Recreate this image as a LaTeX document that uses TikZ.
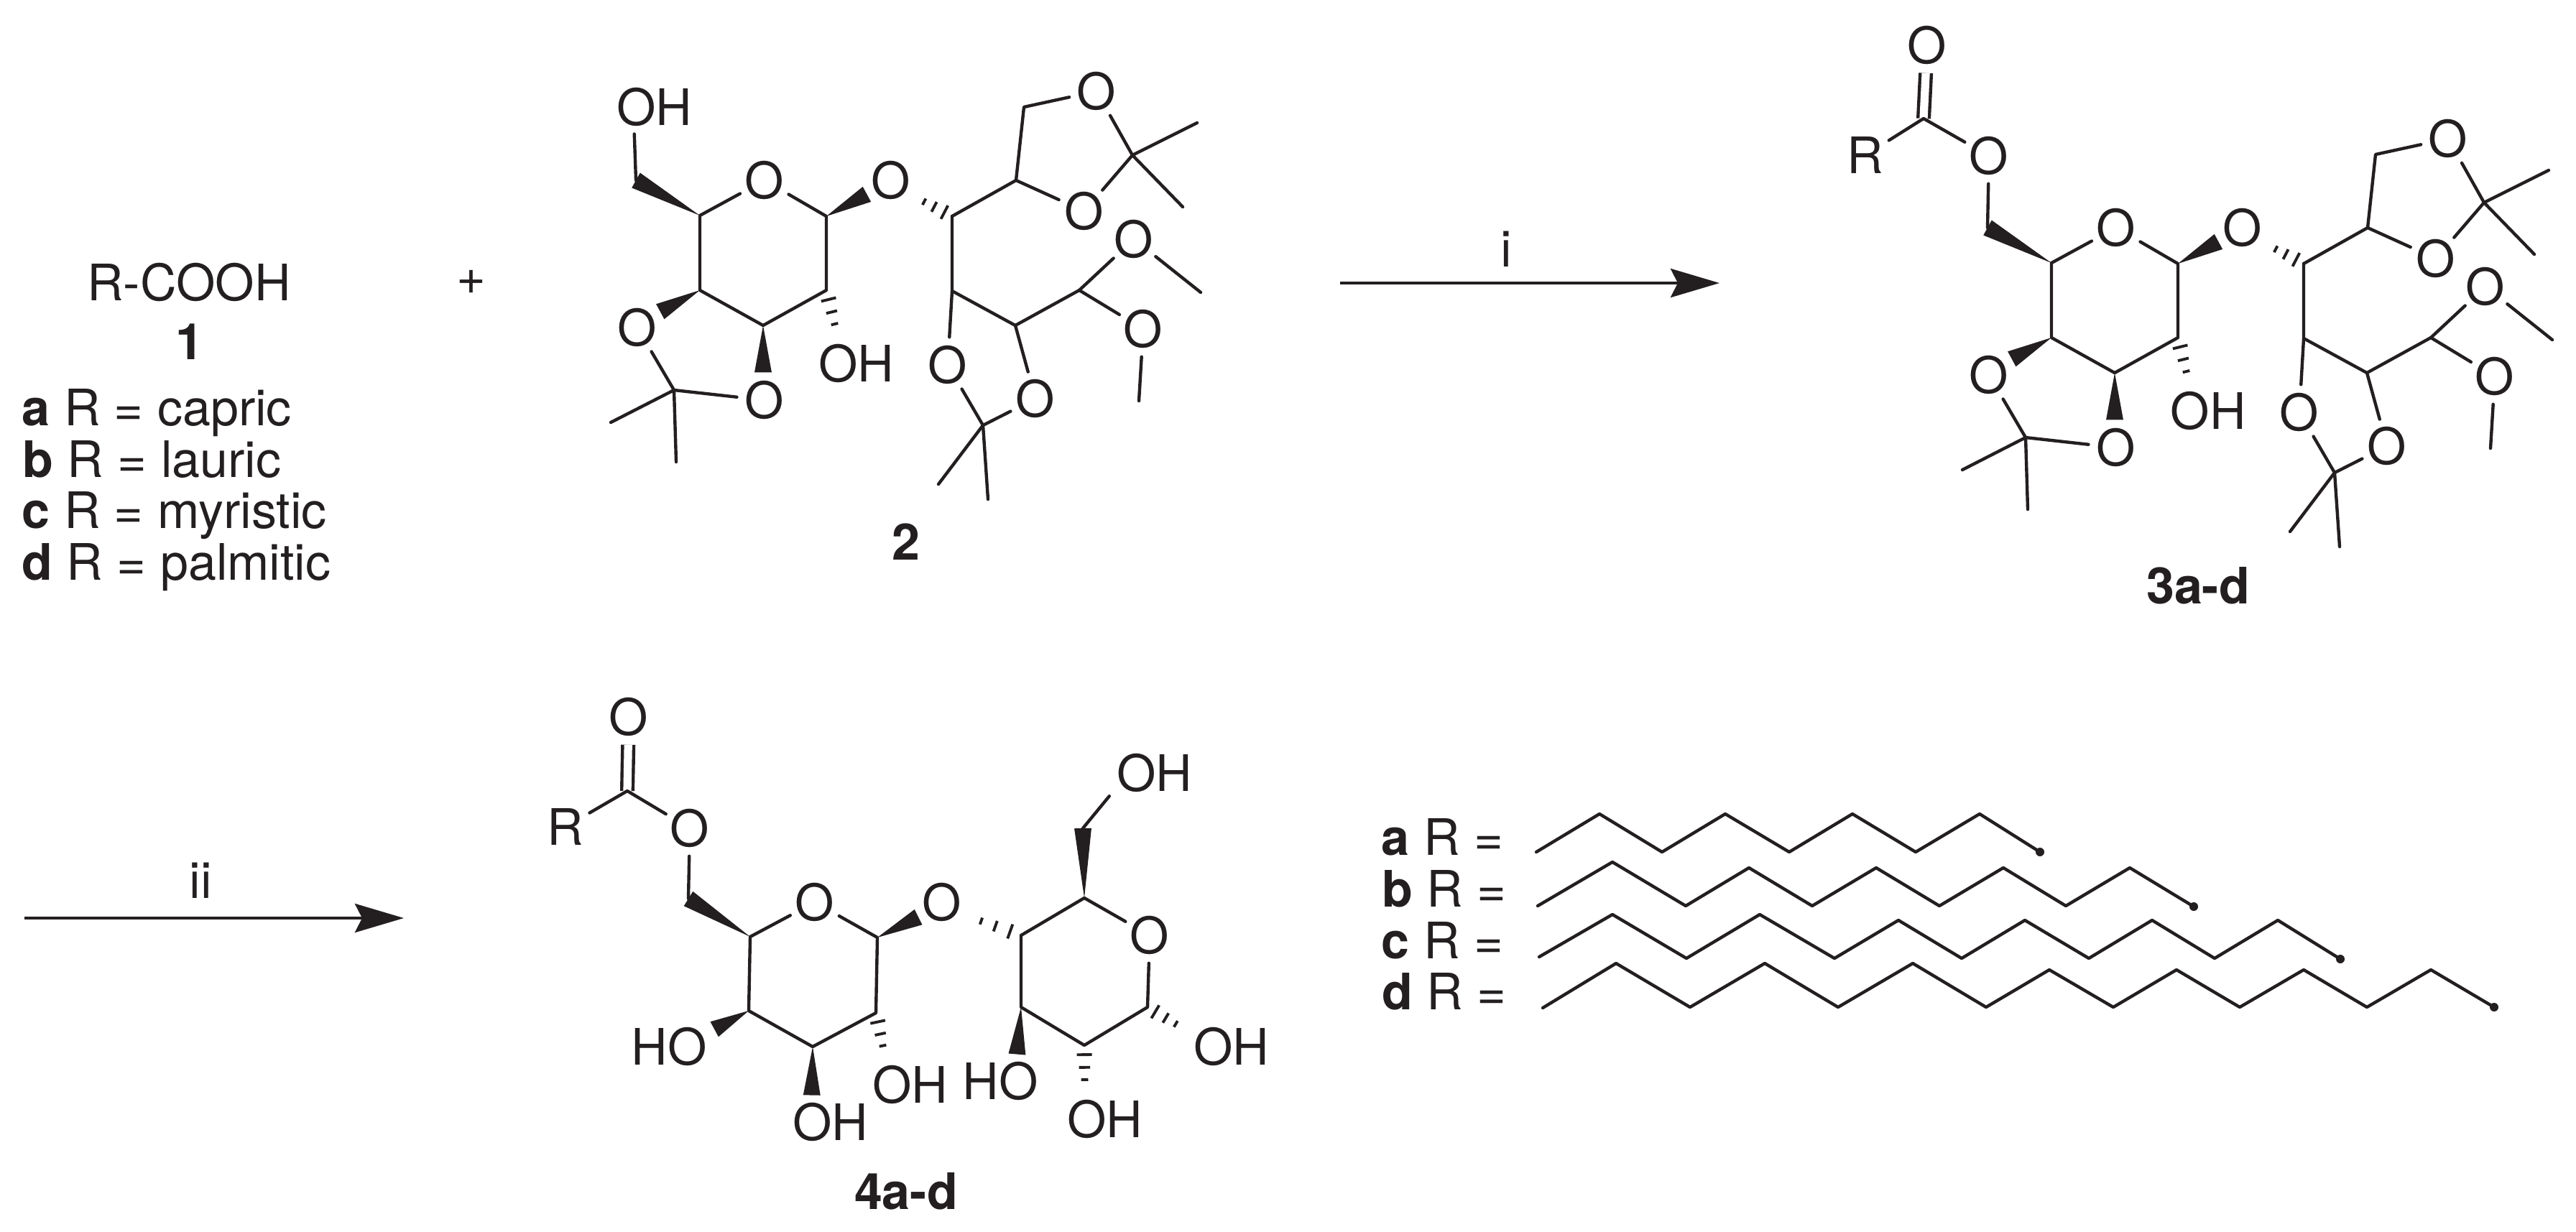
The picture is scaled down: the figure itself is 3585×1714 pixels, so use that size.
\documentclass[tikz,border=0pt]{standalone}
\usepackage{fontspec}
\setmainfont{TeX Gyre Heros}
\usetikzlibrary{calc,arrows.meta}
\definecolor{inkblack}{HTML}{231F20}

\tikzset{
	every node/.style={font=\fontsize{19.9pt}{24pt}\selectfont,text=inkblack},
	bond/.style={draw=inkblack,line width=1.25pt,line cap=round,line join=round},
	dbond/.style={draw=inkblack,line width=1.25pt,double=white,double distance=3.2pt},
	atom/.style={circle,inner sep=0pt,minimum size=0.76cm},
	hydroxyl/.style={rectangle,inner sep=0.1cm},
	caption/.style={inner sep=0pt,font=\fontsize{19.9pt}{24pt}\selectfont\bfseries},
	listing/.style={inner sep=0pt,anchor=base west},
	reaction/.style={draw=inkblack,line width=1.25pt,-{Stealth[length=0.68cm,width=0.4cm,inset=0.1cm]}},
}

\newcommand{\wedgebond}[2]{%
	\fill[inkblack] (#1) -- ($(#2)!3.4pt!90:(#1)$) -- ($(#2)!3.4pt!-90:(#1)$) -- cycle;
}
\newcommand{\hashbond}[2]{%
	\foreach \t/\w in {0.2/3pt,0.47/2.2pt,0.73/1.4pt,1/0.6pt}{
		\draw[inkblack,line width=1.1pt] ($(#1)!\t!(#2)!\w!90:(#2)$) -- ($(#1)!\t!(#2)!\w!-90:(#2)$);
	}
}

\newcommand{\protectedcore}{%
	\coordinate (C1) at (1150,301);
	\coordinate (C2) at (1150,404);
	\coordinate (C3) at (1062,453);
	\coordinate (C4) at (974,404);
	\coordinate (C5) at (974,300);
	\coordinate (C6) at (885,251);
	\node[atom] (O5) at (1064,251) {O};
	\node[atom] (O1) at (1240,251) {O};
	\node[atom] (O4) at (887,456) {O};
	\node[atom] (O3) at (1064,557) {O};
	\node[hydroxyl] (OH2) at (1192,506) {OH};
	\coordinate (K1) at (938,543);
	\coordinate (K1a) at (850,588);
	\coordinate (K1b) at (941,643);
	\draw[bond] (C5) -- (O5) -- (C1) -- (C2) -- (C3) -- (C4) -- (C5);
	\draw[bond] (O4) -- (K1) -- (O3);
	\draw[bond] (K1a) -- (K1) -- (K1b);
	\wedgebond{C5}{C6}
	\wedgebond{C1}{O1.210}
	\wedgebond{C4}{O4.35}
	\wedgebond{C3}{O3.93}
	\hashbond{C2}{OH2.125}
	% open chain
	\coordinate (D1) at (1325,301);
	\coordinate (D2) at (1325,405);
	\coordinate (D3) at (1413,453);
	\coordinate (D4) at (1502,404);
	\coordinate (D5) at (1414,251);
	\coordinate (D6) at (1425,149);
	\hashbond{D1}{O1.325}
	\node[atom] (O6) at (1526,127) {O};
	\node[atom] (O7) at (1509,294) {O};
	\node[atom] (O8) at (1319,508) {O};
	\node[atom] (O9) at (1441,555) {O};
	\node[atom] (O10) at (1578,333) {O};
	\node[atom] (O11) at (1591,458) {O};
	\coordinate (K2) at (1576,216);
	\coordinate (K2a) at (1666,171);
	\coordinate (K2b) at (1646,288);
	\coordinate (K3) at (1368,592);
	\coordinate (K3a) at (1306,674);
	\coordinate (K3b) at (1375,695);
	\coordinate (M1) at (1671,407);
	\coordinate (M2) at (1585,558);
	\draw[bond] (D1) -- (D2) -- (D3) -- (D4);
	\draw[bond] (D1) -- (D5) -- (D6) -- (O6) -- (K2) -- (O7) -- (D5);
	\draw[bond] (K2a) -- (K2) -- (K2b);
	\draw[bond] (D2) -- (O8) -- (K3) -- (O9) -- (D3);
	\draw[bond] (K3a) -- (K3) -- (K3b);
	\draw[bond] (D4) -- (O10) -- (M1);
	\draw[bond] (D4) -- (O11) -- (M2);
}

\begin{document}
\begin{tikzpicture}[x=0.01cm,y=-0.01cm]
\useasboundingbox (0,0) rectangle (3585,1714);

% acid
\node (acid) at (263,393) {R-COOH};
\node[caption] (acidno) at (264,476) {1};
\node[listing] (acida) at (30,592) {\textbf{a} R = capric};
\node[listing] (acidb) at (31,664) {\textbf{b} R = lauric};
\node[listing] (acidc) at (30,735) {\textbf{c} R = myristic};
\node[listing] (acidd) at (30,807) {\textbf{d} R = palmitic};
\node (plus) at (656,393) {+};

% compound 2
\begin{scope}[name prefix=cpdtwo-]
	\protectedcore
	\node[hydroxyl] (OH6) at (911,149) {OH};
	\draw[bond] (C6) -- (OH6.233);
	\node[caption] (name) at (1261,754) {2};
\end{scope}

% first step
\coordinate (stepia) at (1865,394);
\coordinate (stepib) at (2393,394);
\draw[reaction] (stepia) -- (stepib);
\node (stepi) at (2096,347) {i};

% compound 3
\begin{scope}[shift={(1881,66)},name prefix=cpdthree-]
	\protectedcore
	\node[atom] (OE) at (887,151) {O};
	\coordinate (CO) at (796,99);
	\node[atom] (OC) at (801,-3) {O};
	\node[atom] (R) at (715,150) {R};
	\draw[dbond] (CO) -- (OC);
	\draw[bond] (C6) -- (OE) -- (CO) -- (R);
	\node[caption] (name) at (1178,749) {3a-d};
\end{scope}

% second step
\coordinate (stepiia) at (34,1278);
\coordinate (stepiib) at (562,1278);
\draw[reaction] (stepiia) -- (stepiib);
\node (stepii) at (279,1226) {ii};

% compound 4
\begin{scope}[name prefix=cpdfour-]
	\coordinate (C1) at (1221,1305);
	\coordinate (C2) at (1219,1410);
	\coordinate (C3) at (1131,1457);
	\coordinate (C4) at (1042,1407);
	\coordinate (C5) at (1044,1304);
	\coordinate (C6) at (958,1251);
	\coordinate (CO) at (873,1101);
	\node[atom] (O5) at (1134,1256) {O};
	\node[atom] (O1) at (1311,1256) {O};
	\node[atom] (OE) at (960,1153) {O};
	\node[atom] (OC) at (875,998) {O};
	\node[atom] (R) at (787,1151) {R};
	\node[hydroxyl] (HO4) at (931,1457) {HO};
	\node[hydroxyl] (OH3) at (1156,1562) {OH};
	\node[hydroxyl] (OH2) at (1267,1510) {OH};
	\draw[dbond] (CO) -- (OC);
	\draw[bond] (C6) -- (OE) -- (CO) -- (R);
	\draw[bond] (C5) -- (O5) -- (C1) -- (C2) -- (C3) -- (C4) -- (C5);
	\wedgebond{C5}{C6}
	\wedgebond{C1}{O1.212}
	\wedgebond{C4}{HO4.21}
	\wedgebond{C3}{OH3.125}
	\hashbond{C2}{OH2.133}

	\coordinate (D1) at (1421,1302);
	\coordinate (D2) at (1421,1402);
	\coordinate (D3) at (1509,1455);
	\coordinate (D4) at (1597,1402);
	\coordinate (D5) at (1509,1250);
	\coordinate (D6) at (1507,1153);
	\node[atom] (O6) at (1600,1302) {O};
	\node[hydroxyl] (OH7) at (1607,1076) {OH};
	\node[hydroxyl] (HO8) at (1392,1505) {HO};
	\node[hydroxyl] (OH9) at (1538,1558) {OH};
	\node[hydroxyl] (OH10) at (1714,1457) {OH};
	\draw[bond] (D1) -- (D2) -- (D3) -- (D4) -- (O6) -- (D5) -- (D1);
	\draw[bond] (D6) -- (OH7.207);
	\wedgebond{D5}{D6}
	\wedgebond{D2}{HO8.58}
	\hashbond{D1}{O1.331}
	\hashbond{D3}{OH9.127}
	\hashbond{D4}{OH10.160}
	\node[caption] (name) at (1261,1658) {4a-d};
\end{scope}

% chains
\node[listing] (chaina) at (1922,1190) {\textbf{a} R =};
\node[listing] (chainb) at (1923,1262) {\textbf{b} R =};
\node[listing] (chainc) at (1922,1334) {\textbf{c} R =};
\node[listing] (chaind) at (1923,1405) {\textbf{d} R =};

\coordinate (enda) at (2839,1186);
\coordinate (endb) at (3053,1262);
\coordinate (endc) at (3257,1335);
\coordinate (endd) at (3471,1402);
\draw[bond] (2138,1186) -- (2226,1133) -- (2313,1186) -- (2401,1133) -- (2490,1186)
	-- (2578,1133) -- (2666,1186) -- (2755,1133) -- (enda);
\draw[bond] (2140,1261) -- (2244,1200) -- (2346,1261) -- (2434,1208) -- (2522,1261)
	-- (2611,1208) -- (2699,1261) -- (2788,1208) -- (2875,1261) -- (2964,1208) -- (endb);
\draw[bond] (2142,1332) -- (2244,1273) -- (2347,1334) -- (2449,1273) -- (2553,1334)
	-- (2642,1281) -- (2730,1334) -- (2818,1281) -- (2907,1334) -- (2995,1281) -- (3082,1334)
	-- (3170,1281) -- (endc);
\draw[bond] (2147,1403) -- (2249,1341) -- (2352,1402) -- (2456,1341) -- (2558,1402)
	-- (2662,1341) -- (2764,1402) -- (2852,1350) -- (2941,1402) -- (3029,1350) -- (3117,1402)
	-- (3206,1350) -- (3294,1402) -- (3383,1350) -- (endd);
\foreach \e in {enda,endb,endc,endd}{
	\fill[inkblack] (\e) circle (0.06cm);
}
\end{tikzpicture}
\end{document}
